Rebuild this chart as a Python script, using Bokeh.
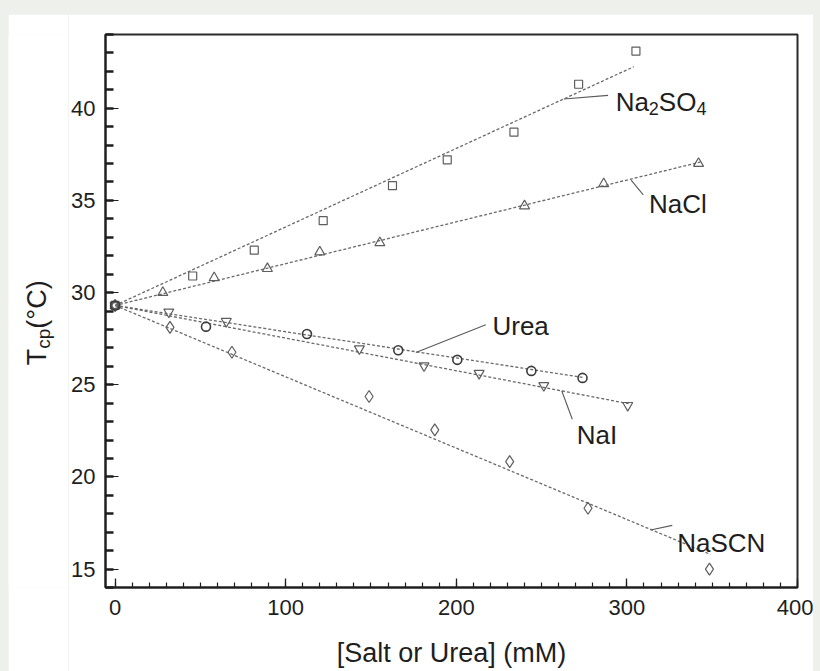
import math

from bokeh.embed import file_html
from bokeh.layouts import column, row
from bokeh.models import Label, Range1d, SingleIntervalTicker
from bokeh.plotting import figure
from bokeh.resources import INLINE

# ---- measured cloud points: concentration (mM) vs cloud point T_cp (deg C) ----
x_na2so4 = [0, 45.5, 81.6, 122, 162.6, 194.7, 233.8, 271.7, 305.3]
y_na2so4 = [29.3, 30.9, 32.3, 33.9, 35.8, 37.2, 38.7, 41.3, 43.1]

x_nacl = [0, 28.0, 58.1, 89.3, 120.0, 155.2, 240.0, 286.4, 342.0]
y_nacl = [29.3, 30.0, 30.8, 31.3, 32.2, 32.7, 34.7, 35.9, 37.0]

x_urea = [0, 53.3, 112.5, 166.0, 200.6, 244.0, 274.0]
y_urea = [29.3, 28.15, 27.75, 26.87, 26.35, 25.75, 25.37]

x_nai = [0, 31.5, 65.2, 143.2, 181.1, 213.4, 251.3, 300.5]
y_nai = [29.3, 28.95, 28.44, 26.95, 26.03, 25.62, 24.96, 23.88]

x_nascn = [0, 32.2, 68.5, 148.9, 187.4, 231.3, 277.2, 348.4]
y_nascn = [29.3, 28.11, 26.76, 24.36, 22.55, 20.83, 18.3, 15.0]

# linear fits: intercept (deg C), slope (deg C / mM), last concentration of the fit
fit_names = ["Na2SO4", "NaCl", "Urea", "NaI", "NaSCN"]
fit_intercept = [29.3, 29.3, 29.3, 29.3, 29.3]
fit_slope = [0.0426, 0.02268, -0.01423, -0.0177, -0.0387]
fit_xmax = [304, 343, 274, 301, 349]

x_ticks = [0, 100, 200, 300, 400]
y_ticks = [15, 20, 25, 30, 35, 40]

FONT = "Liberation Sans"
INK = "#1e1e1e"
GREY = "#5e5e5e"

p = figure(
    width=745, height=657,
    x_range=Range1d(-5.6, 400), y_range=Range1d(14, 44),
    output_backend="svg", toolbar_location=None,
    min_border_left=36, min_border_right=16, min_border_top=20, min_border_bottom=84,
    margin=(14, 7, 0, 0),
    background_fill_color="white", border_fill_color="white",
)
p.grid.visible = False
p.outline_line_color = "#2a2a2a"
p.outline_line_width = 2

# x axis: majors every 100 mM, minors every 10 mM, ticks pointing inwards
p.xaxis.ticker = SingleIntervalTicker(interval=100, num_minor_ticks=10)
p.xaxis.major_label_overrides = {t: str(t) for t in x_ticks}
p.xaxis.major_tick_in = 9
p.xaxis.major_tick_out = 0
p.xaxis.minor_tick_in = 5
p.xaxis.minor_tick_out = 0
p.xaxis.major_tick_line_width = 1.3
p.xaxis.minor_tick_line_width = 1.2
p.xaxis.major_label_standoff = 12
p.xaxis.axis_label = "[Salt or Urea] (mM)"
p.xaxis.axis_label_text_font = FONT
p.xaxis.axis_label_text_font_size = "27px"
p.xaxis.axis_label_text_font_style = "normal"
p.xaxis.axis_label_text_color = INK
p.xaxis.axis_label_standoff = 20

# y axis: majors every 5 deg, minors every degree
p.yaxis.ticker = SingleIntervalTicker(interval=5, num_minor_ticks=5)
p.yaxis.major_label_overrides = {t: str(t) for t in y_ticks}
p.yaxis.major_tick_in = 13
p.yaxis.major_tick_out = 0
p.yaxis.minor_tick_in = 8
p.yaxis.minor_tick_out = 0
p.yaxis.major_tick_line_width = 1.2
p.yaxis.minor_tick_line_width = 2.6
p.yaxis.major_label_standoff = 10

for ax in (p.xaxis, p.yaxis):
    ax.axis_line_color = INK
    ax.axis_line_width = 2
    ax.major_tick_line_color = INK
    ax.minor_tick_line_color = INK
    ax.major_label_text_font = FONT
    ax.major_label_text_font_size = "22px"
    ax.major_label_text_color = INK

# dashed fit lines
for b, m, xm in zip(fit_intercept, fit_slope, fit_xmax):
    p.line([0, xm], [b, b + m * xm], line_color="#6a6a6a", line_width=1.3, line_dash="3 2")

# open symbols for the measurements
mk = dict(fill_color=None, line_width=1.2)
p.scatter(x_na2so4, y_na2so4, marker="square", size=8, line_color=GREY, **mk)
p.scatter(x_nacl, y_nacl, marker="triangle", size=10, line_color=GREY, **mk)
p.scatter(x_nai, y_nai, marker="inverted_triangle", size=10, line_color=GREY, **mk)
p.scatter(x_nascn, y_nascn, marker="diamond", size=12, line_color=GREY, **mk)
p.scatter(x_urea, y_urea, marker="circle", size=9, line_color="#3c3c3c",
          fill_color=None, line_width=1.6)

# leader lines from each name to its fit line
leaders = [
    ((289, 40.70), (263, 40.50)),
    ((309.6, 35.30), (302.5, 36.10)),
    ((217.3, 28.25), (176.3, 26.75)),
    ((268.0, 23.13), (261.8, 24.67)),
    ((326.6, 17.37), (313.9, 17.12)),
]
p.segment([a[0] for a, _ in leaders], [a[1] for a, _ in leaders],
          [b[0] for _, b in leaders], [b[1] for _, b in leaders],
          line_color="#5a5a5a", line_width=1.1)

# rough Arial advance widths (em) for laying out sub-scripted labels
ADV = {"N": .722, "a": .556, "S": .667, "O": .778, "2": .556, "4": .556, "C": .722,
       "l": .222, "I": .278, "U": .722, "r": .333, "e": .556, "c": .5, "p": .556,
       "T": .611, "(": .333, ")": .333, "\u00b0": .4}


def width(s, size):
    return sum(ADV.get(ch, .556) for ch in s) * size


def rich_label(fig, x, y, pieces, size=26, sub=18, drop=7, vertical=False, dx=0, dy=0):
    """Lay out [(text, is_sub), ...] along the baseline starting at (x, y)."""
    adv = 0.0
    for txt, is_sub in pieces:
        fs = sub if is_sub else size
        shift = drop if is_sub else 0
        if vertical:
            xo, yo = dx + shift, dy + adv
        else:
            xo, yo = dx + adv, dy - shift
        fig.add_layout(Label(
            x=x, y=y, x_offset=xo, y_offset=yo, text=txt,
            text_font=FONT, text_font_size=f"{fs}px", text_color=INK,
            text_align="left", text_baseline="alphabetic",
            angle=math.pi / 2 if vertical else 0,
        ))
        adv += width(txt, fs)


rich_label(p, 293.4, 40.34, [("Na", False), ("2", True), ("SO", False), ("4", True)])
rich_label(p, 313.0, 34.80, [("NaCl", False)])
rich_label(p, 221.2, 28.21, [("Urea", False)])
rich_label(p, 270.6, 22.28, [("NaI", False)])
rich_label(p, 329.5, 16.43, [("NaSCN", False)])

# narrow strip to the left holding the rotated y-axis title (pixel coordinates)
ylab = figure(
    width=60, height=657, x_range=Range1d(0, 60), y_range=Range1d(0, 657),
    output_backend="svg", toolbar_location=None, margin=(14, 0, 0, 8),
    min_border=0, outline_line_color=None,
    background_fill_color="white", border_fill_color="white",
)
ylab.axis.visible = False
ylab.grid.visible = False
rich_label(ylab, 28, 314, [("T", False), ("cp", True), ("(\u00b0C)", False)],
           size=27, sub=19, drop=7, vertical=True, dy=-42)

page = column(row(ylab, p), styles={"background-color": "#eef0ec"})

with open("out.html", "w") as fh:
    fh.write(file_html(page, INLINE))
